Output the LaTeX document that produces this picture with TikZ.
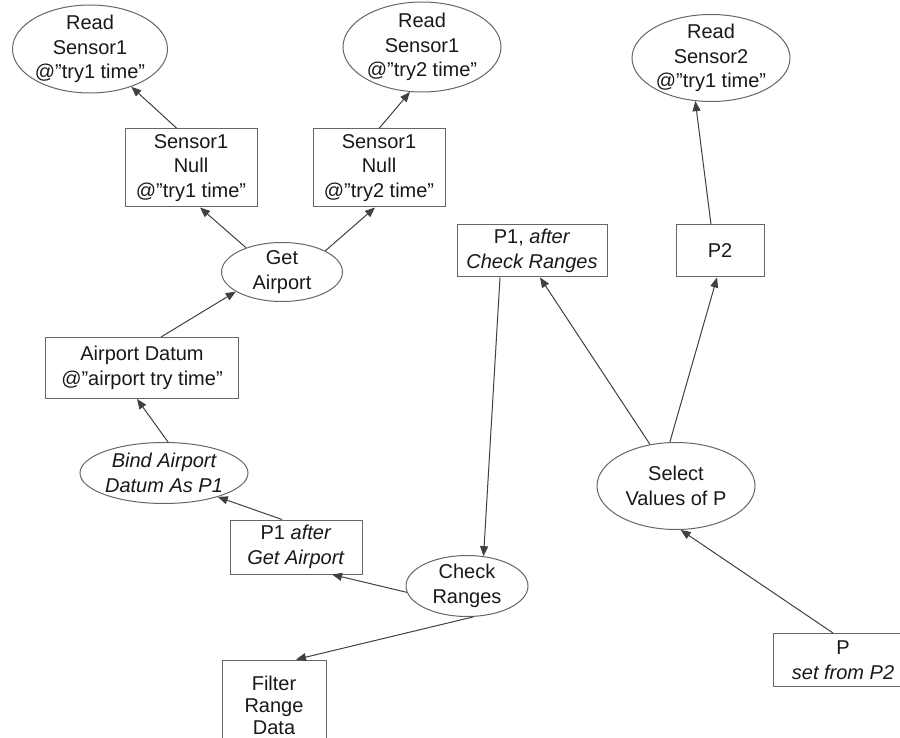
\documentclass[tikz,border=0pt]{standalone}
\usepackage{fontspec}
\setmainfont{Liberation Sans}
\usetikzlibrary{arrows.meta,shapes.geometric}
\begin{document}
\begin{tikzpicture}[x=1pt,y=-1pt,
  every node/.style={font=\fontsize{20}{24.5}\selectfont, align=center, text=black!90},
  box/.style={draw=black!60, line width=1pt, rectangle, inner sep=0pt},
  oval/.style={draw=black!60, line width=1pt, ellipse, inner xsep=-8pt, inner ysep=-12pt},
  edge/.style={draw=black!75, line width=1pt, -{Triangle[length=10pt,width=8pt]}}
]
\fill[white] (0,0) rectangle (900,738);
\useasboundingbox (0,0) rectangle (900,738);

% ellipses
\node[oval, minimum width=155pt, minimum height=88pt] (rs1a) at (90,49) {Read\\Sensor1\\@”try1 time”};
\node[oval, minimum width=158pt, minimum height=90pt] (rs1b) at (422,47) {Read\\Sensor1\\@”try2 time”};
\node[oval, minimum width=158pt, minimum height=87pt] (rs2) at (711,58) {Read\\Sensor2\\@”try1 time”};
\node[oval, minimum width=121pt, minimum height=59pt] (ga) at (282,272) {Get\\Airport};
\node[oval, minimum width=168pt, minimum height=61pt] (bind) at (164,473) {\itshape Bind Airport\\\itshape Datum As P1};
\node[oval, minimum width=122pt, minimum height=61pt] (cr) at (467,586) {Check\\Ranges};
\node[oval, minimum width=158pt, minimum height=87pt] (sv) at (676,486) {Select\\Values of P};

% boxes
\node[box, minimum width=132pt, minimum height=78pt] (s1n1) at (191,168) {Sensor1\\Null\\@”try1 time”};
\node[box, minimum width=132pt, minimum height=78pt] (s1n2) at (379,168) {Sensor1\\Null\\@”try2 time”};
\node[box, minimum width=150pt, minimum height=52pt] (p1cr) at (532,251) {P1, \textit{after}\\\textit{Check Ranges}};
\node[box, minimum width=88pt, minimum height=52pt] (p2) at (720,251) {P2};
\node[box, minimum width=193pt, minimum height=61pt] (ad) at (142,368) {Airport Datum\\@”airport try time”};
\node[box, minimum width=132pt, minimum height=54pt] (p1ga) at (296,547) {P1 \textit{after}\\\textit{Get Airport}};
\node[box, minimum width=104pt, minimum height=90pt, font=\fontsize{20}{22}\selectfont] (fr) at (274,705) {Filter\\Range\\Data};
\node[box, minimum width=140pt, minimum height=53pt] (p) at (843,660) {P\\\textit{set from P2}};

% connectors
\draw[edge] ([xshift=-14pt]s1n1.north) -- (rs1a);
\draw[edge] (s1n2.north) -- (rs1b.-105);
\draw[edge] (ga.146) -- ([xshift=9pt]s1n1.south);
\draw[edge] (ga.26) -- ([xshift=-4pt]s1n2.south);
\draw[edge] ([xshift=19pt]ad.north) -- (ga.-157);
\draw[edge] ([xshift=4pt]bind.north) -- ([xshift=-5pt]ad.south);
\draw[edge] ([xshift=-14pt]p1ga.north) -- (bind.-24);
\draw[edge] (cr.186) -- ([xshift=36pt]p1ga.south);
\draw[edge] (cr.-78) -- ([xshift=22pt]fr.north);
\draw[edge] ([xshift=-32pt]p1cr.south) -- (cr.61);
\draw[edge] (sv.122) -- ([xshift=8pt]p1cr.south);
\draw[edge] (sv.98) -- ([xshift=-3pt]p2.south);
\draw[edge] ([xshift=-10pt]p.north) -- (sv.-84);
\draw[edge] ([xshift=-9pt]p2.north) -- (rs2.-110);
\end{tikzpicture}
\end{document}
